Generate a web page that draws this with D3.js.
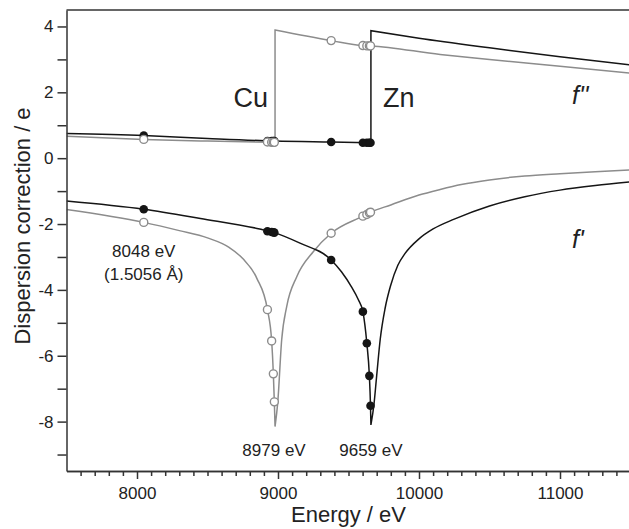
<!DOCTYPE html>
<html>
<head>
<meta charset="utf-8">
<script src="https://cdn.jsdelivr.net/npm/d3@7"></script>
<style>
  body { margin: 0; background: #fff; }
  text { font-family: "Liberation Sans", Arial, sans-serif; fill: #222; }
</style>
</head>
<body>
<div id="chart"></div>
<script>
// measured energies (eV) and the corrections read at them
const markerEnergies = [8048, 8925, 8955, 8967, 8974, 9377, 9602, 9630, 9648, 9656];
const znFpMarks  = [-1.55, -2.22, -2.24, -2.25, -2.26, -3.09, -4.66, -5.62, -6.61, -7.52];
const cuFpMarks  = [-1.95, -4.6, -5.55, -6.55, -7.4, -2.28, -1.76, -1.71, -1.66, -1.64];
const znFppMarks = [0.69, 0.52, 0.52, 0.52, 0.52, 0.49, 0.47, 0.47, 0.47, 0.47];
const cuFppMarks = [0.57, 0.49, 0.48, 0.48, 0.48, 3.57, 3.42, 3.41, 3.41, 3.41];

// f' curves, split at the absorption edge
const cuFpLeft  = [[7500,-1.56],[8048,-1.95],[8300,-2.2],[8500,-2.42],[8650,-2.7],[8750,-3.05],[8850,-3.65],[8925,-4.6],[8955,-5.55],[8967,-6.55],[8974,-7.4],[8979,-8.15]];
const cuFpRight = [[8979,-8.15],[8998,-7.43],[9026,-5.52],[9062,-4.5],[9133,-3.6],[9250,-2.84],[9377,-2.28],[9602,-1.76],[9656,-1.64],[9800,-1.42],[10000,-1.12],[10150,-0.95],[10300,-0.8],[10500,-0.66],[10750,-0.54],[11000,-0.47],[11250,-0.41],[11500,-0.36]];
const znFpLeft  = [[7500,-1.3],[8048,-1.55],[8450,-1.83],[8870,-2.15],[8972,-2.26],[9156,-2.58],[9377,-3.09],[9450,-3.45],[9520,-3.9],[9570,-4.3],[9602,-4.66],[9630,-5.62],[9648,-6.61],[9656,-7.52],[9659,-8.1]];
const znFpRight = [[9659,-8.1],[9680,-7.5],[9700,-6.6],[9725,-5.5],[9760,-4.55],[9800,-3.85],[9850,-3.25],[9900,-2.9],[10000,-2.45],[10100,-2.15],[10250,-1.85],[10500,-1.45],[10750,-1.17],[11000,-0.97],[11250,-0.83],[11500,-0.72]];

// f'' curves, below and above the edge
const cuFppLow  = [[7500,0.67],[8048,0.57],[8500,0.52],[8979,0.48]];
const cuFppHigh = [[8979,3.89],[9377,3.57],[9602,3.42],[9656,3.41],[10150,3.15],[10500,3.0],[11000,2.79],[11500,2.58]];
const znFppLow  = [[7500,0.75],[8048,0.69],[8500,0.6],[8979,0.52],[9377,0.49],[9659,0.47]];
const znFppHigh = [[9659,3.87],[10000,3.64],[10500,3.35],[11000,3.08],[11500,2.83]];

const xMajor = [8000, 9000, 10000, 11000];
const yTicks = d3.range(-9, 5);

const width = 629, height = 529;
const margin = {top: 10, right: -1.5, bottom: 58, left: 66.5};

const svg = d3.select("#chart").append("svg")
    .attr("width", width)
    .attr("height", height);

const x = d3.scaleLinear().domain([7500, 11500]).range([margin.left, width - margin.right]);
const y = d3.scaleLinear().domain([-9.5, 4.5]).range([height - margin.bottom, margin.top]);

svg.append("clipPath").attr("id", "plot")
  .append("rect")
    .attr("x", x(7500)).attr("y", y(4.5))
    .attr("width", x(11500) - x(7500)).attr("height", y(-9.5) - y(4.5));

const line = d3.line().x(d => x(d[0])).y(d => y(d[1])).curve(d3.curveMonotoneX);

// join two branches into one path so the edge is drawn as a straight step
function joined(a, b) {
  return line(a) + line(b).replace(/^M/, "L");
}

const g = svg.append("g").attr("clip-path", "url(#plot)");

const black = "#151515", grey = "#8c8c8c";

[[cuFpLeft, cuFpRight, grey], [cuFppLow, cuFppHigh, grey],
 [znFpLeft, znFpRight, black], [znFppLow, znFppHigh, black]].forEach(s => {
  g.append("path")
    .attr("d", joined(s[0], s[1]))
    .attr("fill", "none")
    .attr("stroke", s[2])
    .attr("stroke-width", 1.5);
});

// filled black markers for Zn, open grey ones for Cu on top
[znFpMarks, znFppMarks].forEach(vals => {
  g.selectAll(null).data(markerEnergies).enter().append("circle")
    .attr("cx", d => x(d))
    .attr("cy", (d, i) => y(vals[i]))
    .attr("r", 4.3)
    .attr("fill", black);
});
[cuFpMarks, cuFppMarks].forEach(vals => {
  g.selectAll(null).data(markerEnergies).enter().append("circle")
    .attr("cx", d => x(d))
    .attr("cy", (d, i) => y(vals[i]))
    .attr("r", 4)
    .attr("fill", "#fff")
    .attr("stroke", grey)
    .attr("stroke-width", 1.4);
});

// axes
const axisColor = "#333";
const yAx = svg.append("g")
    .attr("transform", "translate(" + x(7500) + ",0)")
    .call(d3.axisLeft(y).tickValues(yTicks).tickSize(9).tickSizeOuter(0).tickPadding(4)
      .tickFormat(d => d % 2 === 0 ? String(d) : ""));

const xAx = svg.append("g")
    .attr("transform", "translate(0," + y(-9.5) + ")")
    .call(d3.axisBottom(x).tickValues(xMajor).tickSize(8).tickSizeOuter(0).tickPadding(8)
      .tickFormat(d => String(d)));

const xMinor = svg.append("g")
    .attr("transform", "translate(0," + y(-9.5) + ")")
    .call(d3.axisBottom(x).tickValues(d3.range(7600, 11500, 100).filter(v => v % 1000 !== 0))
      .tickSize(5).tickSizeOuter(0).tickFormat(""));

[yAx, xAx, xMinor].forEach(a => {
  a.selectAll("path, line").attr("stroke", axisColor).attr("stroke-width", 1.5);
  a.selectAll("text").style("font-size", "17px").attr("fill", "#222");
});

// top frame
svg.append("line")
    .attr("x1", x(7500)).attr("x2", x(11500))
    .attr("y1", y(4.5)).attr("y2", y(4.5))
    .attr("stroke", axisColor).attr("stroke-width", 1.5);
svg.append("line")
    .attr("x1", x(11500)).attr("x2", x(11500))
    .attr("y1", y(4.5)).attr("y2", y(-9.5))
    .attr("stroke", axisColor).attr("stroke-width", 1.5);

// axis titles
svg.append("text")
    .attr("x", x(9500)).attr("y", 522)
    .attr("text-anchor", "middle")
    .style("font-size", "22px")
    .text("Energy / eV");

svg.append("text")
    .attr("transform", "translate(30,226) rotate(-90)")
    .attr("text-anchor", "middle")
    .style("font-size", "22px")
    .text("Dispersion correction / e");

// annotations
function label(tx, ty, str, size, anchor, italic) {
  svg.append("text")
    .attr("x", tx).attr("y", ty)
    .attr("text-anchor", anchor || "middle")
    .style("font-size", size + "px")
    .style("font-style", italic ? "italic" : "normal")
    .text(str);
}
label(268, 107, "Cu", 27, "end");
label(383, 107, "Zn", 27, "start");
label(572, 104, "f''", 25, "start", true);
label(572, 248, "f'", 25, "start", true);
label(x(8048), 257, "8048 eV", 17);
label(x(8048), 280, "(1.5056 Å)", 17);
label(x(8979) - 1, 456, "8979 eV", 17);
label(x(9659), 456, "9659 eV", 17);
</script>
</body>
</html>
